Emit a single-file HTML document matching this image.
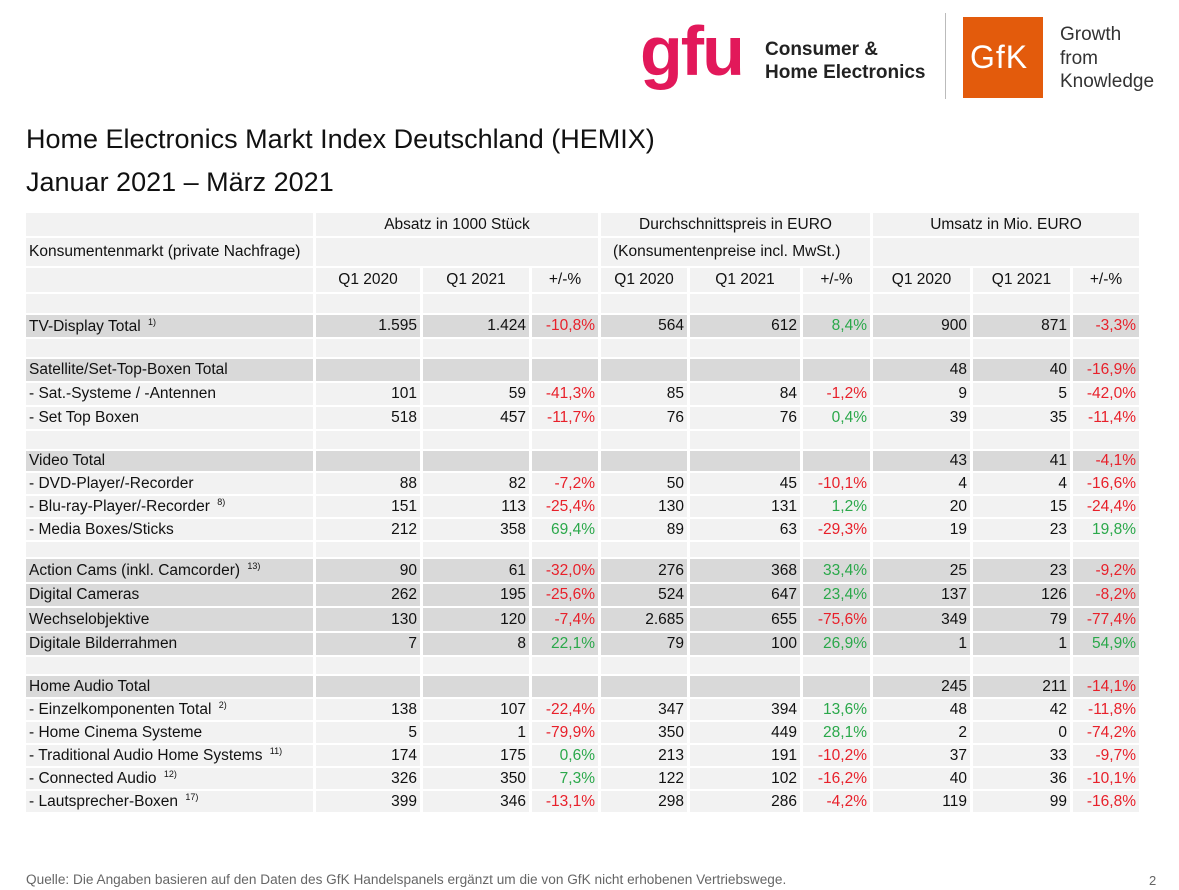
<!DOCTYPE html>
<html><head><meta charset="utf-8"><style>
body{margin:0;width:1179px;height:890px;background:#fff;position:relative;overflow:hidden;font-family:"Liberation Sans",Arial,sans-serif;color:#111}
.abs{position:absolute;white-space:nowrap}
table{position:absolute;left:23px;top:211px;border-collapse:separate;border-spacing:3px 2px;table-layout:fixed;font-size:15.5px}
td{padding:0 3px 0 3px;line-height:1;vertical-align:middle;background:#f2f2f2;white-space:nowrap;overflow:hidden}
tr.d td{background:#d9d9d9}
td.n{text-align:right}
td.c{text-align:center}
.r{color:#e8202a}.g{color:#2aa84a}
sup{font-size:9px;vertical-align:6px;margin-left:3px}
</style></head><body>
<div class="abs" style="left:640px;top:16px;font-size:70px;font-weight:bold;color:#e2185a;letter-spacing:-2px;line-height:1">gfu</div>
<div class="abs" style="left:765px;top:38px;font-size:19px;font-weight:bold;line-height:23px;color:#222">Consumer &amp;<br>Home Electronics</div>
<div class="abs" style="left:945px;top:13px;width:1px;height:86px;background:#bbb"></div>
<div class="abs" style="left:963px;top:17px;width:80px;height:81px;background:#e35b0c"></div>
<div class="abs" style="left:970px;top:41px;font-size:32px;color:#fff;line-height:1;letter-spacing:1px">GfK</div>
<div class="abs" style="left:1060px;top:23px;font-size:19px;line-height:23.5px;color:#333">Growth<br>from<br>Knowledge</div>
<div class="abs" style="left:26px;top:123px;font-size:27px;line-height:32px">Home Electronics Markt Index Deutschland (HEMIX)</div>
<div class="abs" style="left:26px;top:166px;font-size:27px;line-height:32px">Januar 2021 – März 2021</div>
<table>
<colgroup><col style="width:287px"><col style="width:104px"><col style="width:106px"><col style="width:66px"><col style="width:86px"><col style="width:110px"><col style="width:67px"><col style="width:97px"><col style="width:97px"><col style="width:66px"></colgroup>
<tr style="height:23px"><td></td><td colspan="3" class="c">Absatz in 1000 Stück</td><td colspan="3" class="c">Durchschnittspreis in EURO</td><td colspan="3" class="c">Umsatz in Mio. EURO</td></tr>
<tr style="height:28px"><td>Konsumentenmarkt (private Nachfrage)</td><td colspan="3"></td><td colspan="3" style="padding-left:12px">(Konsumentenpreise incl. MwSt.)</td><td colspan="3"></td></tr>
<tr style="height:24px"><td></td><td class="c">Q1 2020</td><td class="c">Q1 2021</td><td class="c">+/-%</td><td class="c">Q1 2020</td><td class="c">Q1 2021</td><td class="c">+/-%</td><td class="c">Q1 2020</td><td class="c">Q1 2021</td><td class="c">+/-%</td></tr>
<tr style="height:19px"><td></td><td></td><td></td><td></td><td></td><td></td><td></td><td></td><td></td><td></td></tr>
<tr class="d" style="height:22px"><td>TV-Display Total <sup>1)</sup></td><td class="n">1.595</td><td class="n">1.424</td><td class="n r">-10,8%</td><td class="n">564</td><td class="n">612</td><td class="n g">8,4%</td><td class="n">900</td><td class="n">871</td><td class="n r">-3,3%</td></tr>
<tr style="height:18px"><td></td><td></td><td></td><td></td><td></td><td></td><td></td><td></td><td></td><td></td></tr>
<tr class="d" style="height:22px"><td>Satellite/Set-Top-Boxen Total</td><td></td><td></td><td></td><td></td><td></td><td></td><td class="n">48</td><td class="n">40</td><td class="n r">-16,9%</td></tr>
<tr style="height:22px"><td>- Sat.-Systeme / -Antennen</td><td class="n">101</td><td class="n">59</td><td class="n r">-41,3%</td><td class="n">85</td><td class="n">84</td><td class="n r">-1,2%</td><td class="n">9</td><td class="n">5</td><td class="n r">-42,0%</td></tr>
<tr style="height:22px"><td>- Set Top Boxen</td><td class="n">518</td><td class="n">457</td><td class="n r">-11,7%</td><td class="n">76</td><td class="n">76</td><td class="n g">0,4%</td><td class="n">39</td><td class="n">35</td><td class="n r">-11,4%</td></tr>
<tr style="height:18px"><td></td><td></td><td></td><td></td><td></td><td></td><td></td><td></td><td></td><td></td></tr>
<tr class="d" style="height:20px"><td>Video Total</td><td></td><td></td><td></td><td></td><td></td><td></td><td class="n">43</td><td class="n">41</td><td class="n r">-4,1%</td></tr>
<tr style="height:21px"><td>- DVD-Player/-Recorder</td><td class="n">88</td><td class="n">82</td><td class="n r">-7,2%</td><td class="n">50</td><td class="n">45</td><td class="n r">-10,1%</td><td class="n">4</td><td class="n">4</td><td class="n r">-16,6%</td></tr>
<tr style="height:21px"><td>- Blu-ray-Player/-Recorder <sup>8)</sup></td><td class="n">151</td><td class="n">113</td><td class="n r">-25,4%</td><td class="n">130</td><td class="n">131</td><td class="n g">1,2%</td><td class="n">20</td><td class="n">15</td><td class="n r">-24,4%</td></tr>
<tr style="height:21px"><td>- Media Boxes/Sticks</td><td class="n">212</td><td class="n">358</td><td class="n g">69,4%</td><td class="n">89</td><td class="n">63</td><td class="n r">-29,3%</td><td class="n">19</td><td class="n">23</td><td class="n g">19,8%</td></tr>
<tr style="height:15px"><td></td><td></td><td></td><td></td><td></td><td></td><td></td><td></td><td></td><td></td></tr>
<tr class="d" style="height:23px"><td>Action Cams (inkl. Camcorder) <sup>13)</sup></td><td class="n">90</td><td class="n">61</td><td class="n r">-32,0%</td><td class="n">276</td><td class="n">368</td><td class="n g">33,4%</td><td class="n">25</td><td class="n">23</td><td class="n r">-9,2%</td></tr>
<tr class="d" style="height:22px"><td>Digital Cameras</td><td class="n">262</td><td class="n">195</td><td class="n r">-25,6%</td><td class="n">524</td><td class="n">647</td><td class="n g">23,4%</td><td class="n">137</td><td class="n">126</td><td class="n r">-8,2%</td></tr>
<tr class="d" style="height:23px"><td>Wechselobjektive</td><td class="n">130</td><td class="n">120</td><td class="n r">-7,4%</td><td class="n">2.685</td><td class="n">655</td><td class="n r">-75,6%</td><td class="n">349</td><td class="n">79</td><td class="n r">-77,4%</td></tr>
<tr class="d" style="height:22px"><td>Digitale Bilderrahmen</td><td class="n">7</td><td class="n">8</td><td class="n g">22,1%</td><td class="n">79</td><td class="n">100</td><td class="n g">26,9%</td><td class="n">1</td><td class="n">1</td><td class="n g">54,9%</td></tr>
<tr style="height:17px"><td></td><td></td><td></td><td></td><td></td><td></td><td></td><td></td><td></td><td></td></tr>
<tr class="d" style="height:21px"><td>Home Audio Total</td><td></td><td></td><td></td><td></td><td></td><td></td><td class="n">245</td><td class="n">211</td><td class="n r">-14,1%</td></tr>
<tr style="height:21px"><td>- Einzelkomponenten Total <sup>2)</sup></td><td class="n">138</td><td class="n">107</td><td class="n r">-22,4%</td><td class="n">347</td><td class="n">394</td><td class="n g">13,6%</td><td class="n">48</td><td class="n">42</td><td class="n r">-11,8%</td></tr>
<tr style="height:21px"><td>- Home Cinema Systeme</td><td class="n">5</td><td class="n">1</td><td class="n r">-79,9%</td><td class="n">350</td><td class="n">449</td><td class="n g">28,1%</td><td class="n">2</td><td class="n">0</td><td class="n r">-74,2%</td></tr>
<tr style="height:21px"><td>- Traditional Audio Home Systems <sup>11)</sup></td><td class="n">174</td><td class="n">175</td><td class="n g">0,6%</td><td class="n">213</td><td class="n">191</td><td class="n r">-10,2%</td><td class="n">37</td><td class="n">33</td><td class="n r">-9,7%</td></tr>
<tr style="height:21px"><td>- Connected Audio <sup>12)</sup></td><td class="n">326</td><td class="n">350</td><td class="n g">7,3%</td><td class="n">122</td><td class="n">102</td><td class="n r">-16,2%</td><td class="n">40</td><td class="n">36</td><td class="n r">-10,1%</td></tr>
<tr style="height:21px"><td>- Lautsprecher-Boxen <sup>17)</sup></td><td class="n">399</td><td class="n">346</td><td class="n r">-13,1%</td><td class="n">298</td><td class="n">286</td><td class="n r">-4,2%</td><td class="n">119</td><td class="n">99</td><td class="n r">-16,8%</td></tr>
</table>
<div class="abs" style="left:26px;top:872px;font-size:13.5px;color:#666;transform:scaleX(1.01);transform-origin:left">Quelle: Die Angaben basieren auf den Daten des GfK Handelspanels ergänzt um die von GfK nicht erhobenen Vertriebswege.</div>
<div class="abs" style="left:1149px;top:873px;font-size:13px;color:#666">2</div>
</body></html>
